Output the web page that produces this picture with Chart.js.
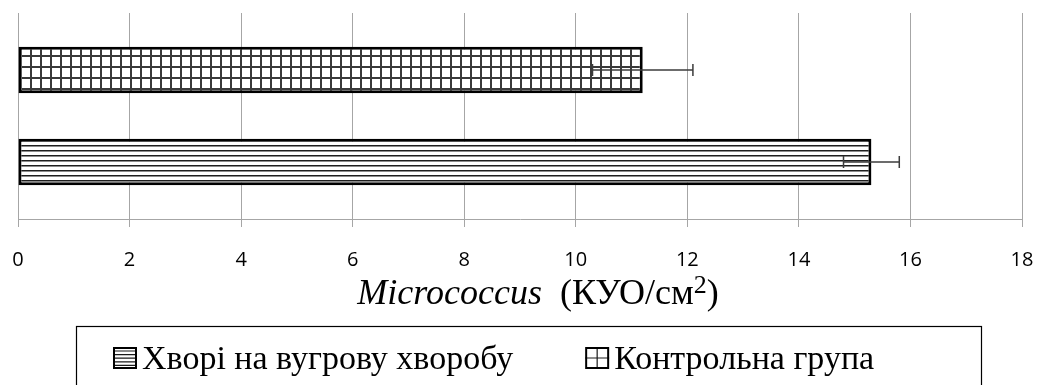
<!DOCTYPE html>
<html>
<head>
<meta charset="utf-8">
<script src="https://cdn.jsdelivr.net/npm/chart.js@4.4.1/dist/chart.umd.min.js"></script>
<style>
  body { margin: 0; background: #fff; }
  #wrap { width: 1038px; height: 385px; position: relative; }
</style>
</head>
<body>
<div id="wrap"><canvas id="microChart"></canvas></div>
<script>
// Micrococcus counts, mean and error per group
const seriesLabels = ['Хворі на вугрову хворобу', 'Контрольна група'];
const seriesMeans = [15.3, 11.2];
const seriesErrors = [0.5, 0.9];
const categories = [''];

// x axis range and step
const xMin = 0;
const xMax = 18;
const xStep = 2;

// axis title pieces: genus in italics, unit with squared exponent
const titleGenus = 'Micrococcus';
const titleUnit = '(КУО/см';
const titleExp = '2';
const titleClose = ')';

const serif = '"Liberation Serif", "Times New Roman", serif';
const canvas = document.getElementById('microChart');

function makePattern(w, h, paint) {
  const c = document.createElement('canvas');
  c.width = w;
  c.height = h;
  const g = c.getContext('2d');
  g.fillStyle = '#fff';
  g.fillRect(0, 0, w, h);
  paint(g, w, h);
  return canvas.getContext('2d').createPattern(c, 'repeat');
}

// horizontal hatching for patients, square mesh for controls
const stripes = makePattern(8, 5, (g, w) => {
  g.fillStyle = '#1e1e1e';
  g.fillRect(0, 0, w, 1);
  g.fillStyle = '#8c8c8c';
  g.fillRect(0, 1, w, 1);
});
const mesh = makePattern(10, 11, (g, w, h) => {
  g.fillStyle = '#3a3a3a';
  g.fillRect(0, 0, 2, h);
  g.fillRect(0, 0, w, 2);
});
const fills = [stripes, mesh];

// control group goes on top, patients below
const drawOrder = [1, 0];

const errorBars = {
  id: 'errorBars',
  afterDatasetsDraw(chart) {
    const { ctx } = chart;
    const x = chart.scales.x;
    ctx.save();
    ctx.strokeStyle = '#3c3c3c';
    ctx.lineWidth = 1.5;
    chart.data.datasets.forEach((ds, di) => {
      chart.getDatasetMeta(di).data.forEach((bar, i) => {
        const v = ds.data[i];
        const e = ds.errors[i];
        const x0 = x.getPixelForValue(v - e);
        const x1 = x.getPixelForValue(v + e);
        const y = bar.y;
        const cap = 6;
        ctx.beginPath();
        ctx.moveTo(x0, y); ctx.lineTo(x1, y);
        ctx.moveTo(x0, y - cap); ctx.lineTo(x0, y + cap);
        ctx.moveTo(x1, y - cap); ctx.lineTo(x1, y + cap);
        ctx.stroke();
      });
    });
    ctx.restore();
  }
};

function drawIcon(ctx, kind, x, y, w, h) {
  ctx.save();
  ctx.fillStyle = '#fff';
  ctx.fillRect(x, y, w, h);
  ctx.strokeStyle = '#1a1a1a';
  ctx.lineWidth = 1.2;
  ctx.beginPath();
  if (kind === 0) {
    for (let yy = y + 4; yy < y + h - 1; yy += 3.6) {
      ctx.moveTo(x, yy); ctx.lineTo(x + w, yy);
    }
  } else {
    ctx.moveTo(x + w / 2, y); ctx.lineTo(x + w / 2, y + h);
    ctx.moveTo(x, y + h / 2); ctx.lineTo(x + w, y + h / 2);
  }
  ctx.stroke();
  ctx.lineWidth = 2;
  ctx.strokeStyle = '#000';
  ctx.strokeRect(x + 1, y + 1, w - 2, h - 2);
  ctx.restore();
}

const captions = {
  id: 'captions',
  afterDraw(chart) {
    const { ctx, chartArea } = chart;
    ctx.save();
    ctx.fillStyle = '#000';
    ctx.textBaseline = 'alphabetic';
    ctx.textAlign = 'left';

    // axis title
    const parts = [
      { text: titleGenus, font: 'italic 36px ' + serif, dy: 0 },
      { text: '  ' + titleUnit, font: '36px ' + serif, dy: 0 },
      { text: titleExp, font: '26px ' + serif, dy: -11 },
      { text: titleClose, font: '36px ' + serif, dy: 0 }
    ];
    let total = 0;
    parts.forEach(p => { ctx.font = p.font; p.w = ctx.measureText(p.text).width; total += p.w; });
    let tx = (chartArea.left + chartArea.right) / 2 + 18 - total / 2;
    const ty = 304;
    parts.forEach(p => {
      ctx.font = p.font;
      ctx.fillText(p.text, tx, ty + p.dy);
      tx += p.w;
    });

    // legend frame and entries
    const boxLeft = 76.5, boxRight = 981.5, boxTop = 326.5;
    ctx.strokeStyle = '#000';
    ctx.lineWidth = 1.2;
    ctx.strokeRect(boxLeft, boxTop, boxRight - boxLeft, chart.height + 10 - boxTop);

    ctx.font = '34px ' + serif;
    let lx = boxLeft + 36.5;
    seriesLabels.forEach((label, i) => {
      drawIcon(ctx, i, lx, 347, 24, 22);
      lx += 29;
      ctx.fillText(label, lx, 369);
      lx += ctx.measureText(label).width + 72;
    });
    ctx.restore();
  }
};

new Chart(canvas, {
  type: 'bar',
  data: {
    labels: categories,
    datasets: drawOrder.map(i => ({
      label: seriesLabels[i],
      data: [seriesMeans[i]],
      errors: [seriesErrors[i]],
      backgroundColor: fills[i],
      borderColor: '#000',
      borderWidth: 3,
      borderSkipped: false,
      categoryPercentage: 0.892,
      barPercentage: 0.505
    }))
  },
  options: {
    indexAxis: 'y',
    responsive: true,
    maintainAspectRatio: false,
    animation: false,
    layout: {
      padding: { top: 13, left: 18, right: 16, bottom: 92 }
    },
    scales: {
      x: {
        min: xMin,
        max: xMax,
        // tick padding only pushes labels down, not the plot edges
        afterFit(scale) {
          scale.paddingLeft = 0;
          scale.paddingRight = 0;
        },
        ticks: {
          stepSize: xStep,
          padding: 21,
          color: '#000',
          font: { family: '"Open Sans"', size: 20 }
        },
        grid: {
          color: '#a6a6a6',
          lineWidth: 1,
          tickLength: 8
        },
        border: { color: '#a6a6a6', width: 1 }
      },
      y: {
        display: false
      }
    },
    plugins: {
      legend: { display: false },
      tooltip: { enabled: false }
    }
  },
  plugins: [errorBars, captions]
});
</script>
</body>
</html>
